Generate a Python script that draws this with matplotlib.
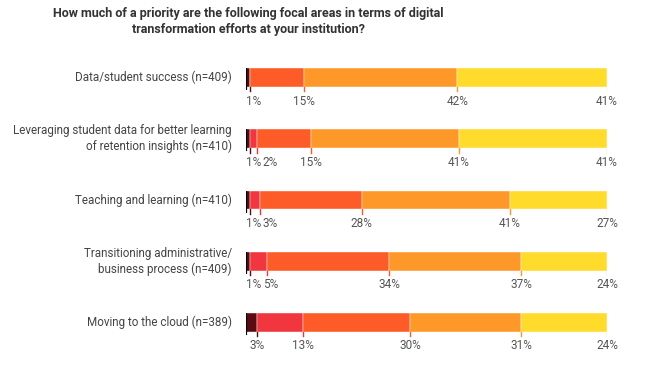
import numpy as np
import matplotlib
matplotlib.use("Agg")
import matplotlib.pyplot as plt

categories = ["Data/student success (n=409)",
              "Leveraging student data for better learning\nof retention insights (n=410)",
              "Teaching and learning (n=410)",
              "Transitioning administrative/\nbusiness process (n=409)",
              "Moving to the cloud (n=389)"]
# priority levels, lowest to highest
not_priority = [1, 1, 1, 1, 3]
low = [0, 2, 3, 5, 13]
medium = [15, 15, 28, 34, 30]
high = [42, 41, 41, 37, 31]
essential = [41, 41, 27, 24, 24]

colors = ["#5c0a12", "#f2363f", "#fd5b27", "#fe9828", "#ffdb2c"]
title = "How much of a priority are the following focal areas in terms of digital\ntransformation efforts at your institution?"

plt.rcParams["font.family"] = ["Roboto", "DejaVu Sans"]
fig = plt.figure(figsize=(6.5, 3.69), dpi=100)
ax = fig.add_axes([246 / 650, 1 - 353 / 369, 361 / 650, 306 / 369])
ax.set_xlim(0, 100)
ax.set_ylim(len(categories) - 0.5, -0.5)
ax.axis("off")

vals = np.array([not_priority, low, medium, high, essential], dtype=float)
shares = vals / vals.sum(axis=0) * 100
ys = np.arange(len(categories))
h = 0.31
px = 100 / 361  # data units per pixel
renderer = fig.canvas.get_renderer()

left = np.zeros(len(categories))
last_right = np.full(len(categories), -10.0)
for k in range(len(vals)):
    ax.barh(ys, shares[k], left=left, height=h, color=colors[k],
            edgecolor="white", linewidth=0.3)
    ends = left + shares[k]
    for i, y in enumerate(ys):
        if vals[k, i] == 0:
            continue
        ax.plot([ends[i], ends[i]], [y + h / 2, y + h / 2 + 0.07], color=colors[k], lw=1)
        t = ax.text(ends[i], y + h / 2 + 0.23, f"{int(vals[k, i])}%", ha="center", va="center",
                    fontsize=8.5, color="#555555")
        # push small labels right so they don't collide
        half = t.get_window_extent(renderer).width / 2 * px
        cx = max(ends[i], last_right[i] + 1.5 * px + half, half)
        t.set_x(cx)
        last_right[i] = cx + half
    left = ends

for y in ys:
    ax.plot([0, 0], [y - h / 2, y + h / 2 + 0.05], color="black", lw=1.6, solid_capstyle="butt")

for y, c in zip(ys, categories):
    ax.text(-3.9, y, c, ha="right", va="center", fontsize=8.4, color="#444444", linespacing=1.25)

fig.text(248 / 650, 1 - 22 / 369, title, ha="center", va="center", fontsize=9,
         fontweight="bold", color="#333333", linespacing=1.3)
fig.savefig("out.png", dpi=100)
